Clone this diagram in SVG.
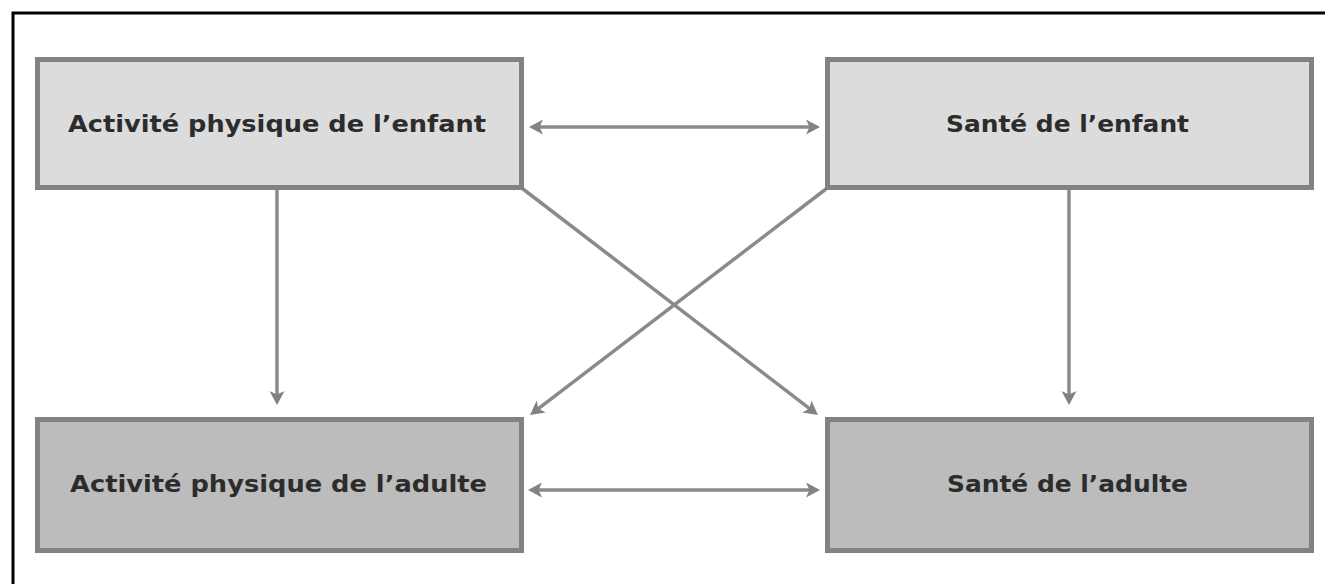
<svg xmlns="http://www.w3.org/2000/svg" width="1325" height="584" viewBox="0 0 1325 584">
  <style>
    .box { stroke: #828282; stroke-width: 5; }
    .top { fill: #dcdcdc; }
    .bot { fill: #bcbcbc; }
    .lbl { font-family: "DejaVu Sans", "Liberation Sans", sans-serif; font-weight: bold; font-size: 23px; fill: #2c2c2c; }
    .con { stroke: #8a8a8a; stroke-width: 3.5; fill: none; }
  </style>
  <defs>
    <marker id="ah" viewBox="0 0 14 16" markerWidth="14" markerHeight="16" refX="8" refY="8" markerUnits="userSpaceOnUse" orient="auto-start-reverse">
      <path d="M0,0.5 L14,8 L0,15.5 L3.5,8 Z" fill="#828282"/>
    </marker>
  </defs>
  <rect x="0" y="0" width="1325" height="584" fill="#ffffff"/>
  <path d="M13,600 V13 H1340" fill="none" stroke="#000000" stroke-width="3"/>

  <g id="connectors">
    <line class="con" x1="535" y1="127" x2="814" y2="127" marker-start="url(#ah)" marker-end="url(#ah)"/>
    <line class="con" x1="534" y1="490" x2="814" y2="490" marker-start="url(#ah)" marker-end="url(#ah)"/>
    <line class="con" x1="277" y1="190" x2="277" y2="399" marker-end="url(#ah)"/>
    <line class="con" x1="1069" y1="190" x2="1069" y2="399" marker-end="url(#ah)"/>
    <line class="con" x1="523" y1="189" x2="813.2" y2="411.3" marker-end="url(#ah)"/>
    <line class="con" x1="826" y1="189" x2="534.8" y2="411.3" marker-end="url(#ah)"/>
  </g>

  <g id="node-activite-enfant">
    <rect class="box top" x="37.5" y="59.5" width="484" height="128"/>
    <text class="lbl" x="68" y="132" textLength="418" lengthAdjust="spacingAndGlyphs">Activité physique de l’enfant</text>
  </g>
  <g id="node-sante-enfant">
    <rect class="box top" x="827.5" y="59.5" width="484" height="128"/>
    <text class="lbl" x="946" y="132" textLength="243" lengthAdjust="spacingAndGlyphs">Santé de l’enfant</text>
  </g>
  <g id="node-activite-adulte">
    <rect class="box bot" x="37.5" y="419.5" width="484" height="131"/>
    <text class="lbl" x="70" y="492" textLength="417" lengthAdjust="spacingAndGlyphs">Activité physique de l’adulte</text>
  </g>
  <g id="node-sante-adulte">
    <rect class="box bot" x="827.5" y="419.5" width="484" height="131"/>
    <text class="lbl" x="947" y="492" textLength="241" lengthAdjust="spacingAndGlyphs">Santé de l’adulte</text>
  </g>
</svg>
